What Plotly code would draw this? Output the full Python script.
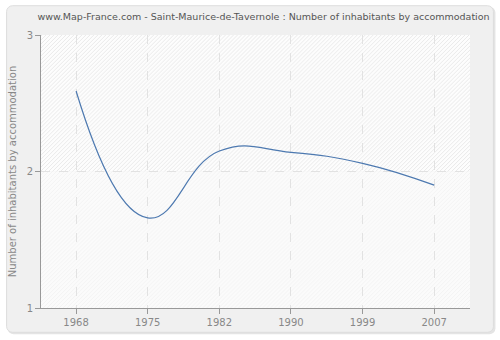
import base64
import plotly.graph_objects as go

years = ["1968", "1975", "1982", "1990", "1999", "2007"]
inhabitants_per_home = [2.59, 1.66, 2.15, 2.14, 2.06, 1.90]
y_ticks = [1, 2, 3]

title_text = "www.Map-France.com - Saint-Maurice-de-Tavernole : Number of inhabitants by accommodation"
y_title = "Number of inhabitants by accommodation"

W, H = 500, 340
ML, MR, MT, MB = 40, 30, 35, 30
pw, ph = W - ML - MR, H - MT - MB

# page backdrop: rounded grey frame plus diagonal hatch behind the plot area
# (hatch is darker above y=2, lighter below)
half = ph / 2
backdrop_svg = f"""<svg xmlns='http://www.w3.org/2000/svg' width='{W}' height='{H}'>
<defs>
<pattern id='a' width='4' height='4' patternUnits='userSpaceOnUse'>
<rect width='4' height='4' fill='#fdfdfd'/>
<path d='M-1,1 l2,-2 M0,4 l4,-4 M3,5 l2,-2' stroke='#e9e9e9' stroke-width='1'/>
</pattern>
<pattern id='b' width='4' height='4' patternUnits='userSpaceOnUse'>
<rect width='4' height='4' fill='#fbfbfb'/>
<path d='M-1,1 l2,-2 M0,4 l4,-4 M3,5 l2,-2' stroke='#f3f3f3' stroke-width='1'/>
</pattern>
</defs>
<rect x='0' y='0' width='{W}' height='{H}' fill='#ffffff'/>
<rect x='6.5' y='6.5' width='489' height='330' rx='6' fill='#e4e4e4'/>
<rect x='5.5' y='5.5' width='488' height='329' rx='6' fill='#f0f0f0' stroke='#dddddd' stroke-width='1'/>
<rect x='{ML}' y='{MT}' width='{pw}' height='{half}' fill='url(#a)'/>
<rect x='{ML}' y='{MT + half}' width='{pw}' height='{ph - half}' fill='url(#b)'/>
</svg>"""
backdrop_uri = "data:image/svg+xml;base64," + base64.b64encode(backdrop_svg.encode()).decode()

fig = go.Figure()

fig.add_trace(go.Scatter(
    x=years, y=inhabitants_per_home, mode="lines",
    line=dict(color="#4d79b0", width=1.2, shape="spline", smoothing=1.3),
    showlegend=False))

fig.add_layout_image(dict(source=backdrop_uri, xref="paper", yref="paper",
                          x=-ML / pw, y=1 + MT / ph, sizex=W / pw, sizey=H / ph,
                          sizing="stretch", xanchor="left", yanchor="top", layer="below"))

fig.update_layout(
    width=W, height=H,
    margin=dict(l=ML, r=MR, t=MT, b=MB),
    paper_bgcolor="white", plot_bgcolor="rgba(0,0,0,0)",
    font=dict(family="DejaVu Sans, Verdana, sans-serif", size=10, color="#888888"),
    title=dict(text=title_text, x=0.527, xanchor="center", y=0.95, yanchor="middle",
               font=dict(size=9.5, color="#555555")),
    xaxis=dict(type="category", range=[-0.49, 5.5],
               showgrid=True, gridcolor="#e2e2e2", griddash="dash", gridwidth=1,
               showline=True, linecolor="#999999", ticks="outside", ticklen=5,
               tickcolor="#999999", zeroline=False,
               tickfont=dict(size=10, color="#888888")),
    yaxis=dict(range=[1, 3], tickvals=y_ticks, showgrid=True, gridcolor="#e2e2e2",
               griddash="dash", showline=True, linecolor="#999999", ticks="outside",
               ticklen=5, tickcolor="#999999", zeroline=False,
               title=dict(text=y_title, font=dict(size=10, color="#888888"), standoff=8),
               tickfont=dict(size=10, color="#888888")),
)

fig.write_html("out.html")
